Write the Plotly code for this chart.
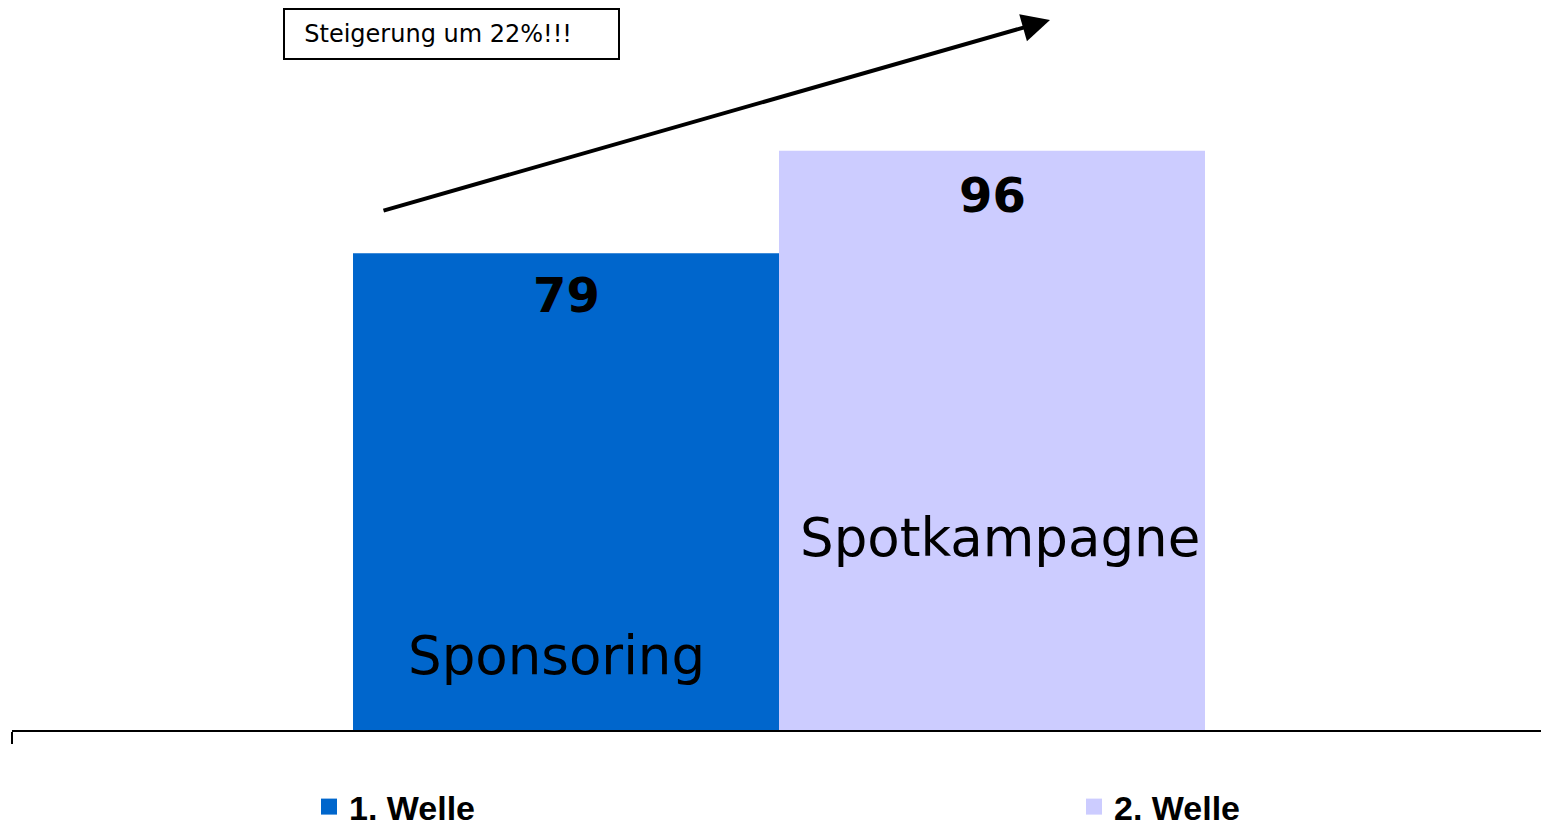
import plotly.graph_objects as go

categories = [""]
series_names = ["1. Welle", "2. Welle"]
bar_labels = ["Sponsoring", "Spotkampagne"]
values = [79, 96]
colors = ["#0066CC", "#CCCCFF"]
label_heights = [12.3, 31.9]
label_xshift = [-10, 8]

BARGAP = 0.4446
W, H = 1546, 828
PW = W - 12

fig = go.Figure()
for name, v, c in zip(series_names, values, colors):
    fig.add_trace(go.Bar(x=categories, y=[v], name=name, marker=dict(color=c, line=dict(width=0)),
                         showlegend=False, hoverinfo="skip"))
    # legend-only marker
    fig.add_trace(go.Scatter(x=[None], y=[None], mode="markers", name=f"<b>{name}</b>",
                             marker=dict(symbol="square", size=20, color=c), showlegend=True))

group_w = 1 - BARGAP
annotations = []
for i, (v, lab) in enumerate(zip(values, bar_labels)):
    xc = -group_w / 2 + group_w / 4 + i * group_w / 2
    annotations.append(dict(x=xc, y=v, xref="x", yref="y", text=f"<b>{v}</b>", showarrow=False,
                            yanchor="middle", yshift=-42 - (2 if i == 1 else 0),
                            font=dict(family="DejaVu Sans", size=48, color="black")))
    annotations.append(dict(x=xc, y=label_heights[i], xref="x", yref="y", text=lab, showarrow=False,
                            yanchor="middle", xshift=label_xshift[i],
                            font=dict(family="DejaVu Sans", size=53, color="black")))

# arrow
annotations.append(dict(x=(1050 - 12) / PW, y=(730 - 20) / 724, xref="paper", yref="paper",
                        ax=-668, ay=191, axref="pixel", ayref="pixel", text="", showarrow=True,
                        arrowhead=2, arrowsize=1.4, arrowwidth=4, arrowcolor="black"))
# text box
annotations.append(dict(x=(283 - 12) / PW, y=(730 - 8) / 724, xref="paper", yref="paper",
                        text="&nbsp;&nbsp;Steigerung um 22%!!!",
                        showarrow=False, xanchor="left", yanchor="top", align="left",
                        bordercolor="black", borderwidth=2, borderpad=4, bgcolor="white",
                        width=325, height=40,
                        font=dict(family="DejaVu Sans", size=24, color="black")))

fig.update_layout(
    width=W, height=H,
    margin=dict(l=12, r=0, t=6, b=98, autoexpand=False),
    plot_bgcolor="white", paper_bgcolor="white",
    barmode="group", bargap=BARGAP, bargroupgap=0,
    xaxis=dict(type="category", range=[-0.5, 0.5], showline=True, linecolor="black", linewidth=2,
               ticks="outside", tickson="boundaries", ticklen=12, tickwidth=2, tickcolor="black",
               showticklabels=False, showgrid=False, zeroline=False, fixedrange=True),
    yaxis=dict(range=[0, 120], visible=False, showgrid=False, zeroline=False, fixedrange=True),
    legend=dict(orientation="h", x=309 / W, xref="container", xanchor="left",
                y=(H - 807) / H, yref="container", yanchor="middle",
                entrywidth=720, entrywidthmode="pixels",
                font=dict(family="Liberation Sans", size=34, color="black"),
                bgcolor="rgba(0,0,0,0)"),
    annotations=annotations,
)
fig.write_html("out.html", config={"displayModeBar": False},
               post_script="document.body.style.margin='0';document.body.style.overflow='hidden';")
